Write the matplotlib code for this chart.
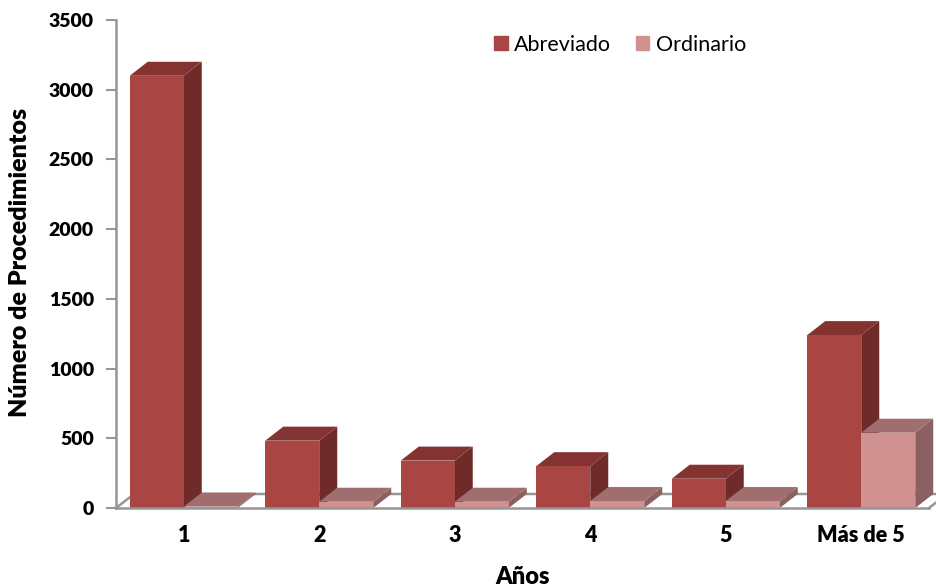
import matplotlib
matplotlib.use("Agg")
import matplotlib.pyplot as plt
from matplotlib.patches import Patch
import numpy as np

plt.rcParams['font.family'] = ['Lato', 'DejaVu Sans']

categories = ["1", "2", "3", "4", "5", "Más de 5"]
abreviado = [3100, 483, 340, 300, 210, 1240]
ordinario = [10, 45, 45, 50, 50, 540]
y_ticks = [0, 500, 1000, 1500, 2000, 2500, 3000, 3500]

W, H = 936, 588
left, right, bottom, top = 116, 929, 508, 20

# Colours: front, side, top of each box
ab_cols = ("#A94542", "#6E2B29", "#843331")
or_cols = ("#D09191", "#8A6060", "#A06E6E")
grey = "#969696"

fig = plt.figure(figsize=(W / 100, H / 100), dpi=100)
ax = fig.add_axes([left / W, 1 - bottom / H, (right - left) / W, (bottom - top) / H])
ax.set_xlim(0, 6)
ax.set_ylim(0, 3500)

# 3D depth of the boxes, pixels turned into data units
dx = 18 / ((right - left) / 6)
dy = 14 / ((bottom - top) / 3500)
bar_w = 54 / ((right - left) / 6)


def box(x0, value, cols, z):
    x1 = x0 + bar_w
    ax.bar(x0, value, width=bar_w, align='edge', color=cols[0], linewidth=0, zorder=z + 0.2)
    ax.fill([x1, x1 + dx, x1 + dx, x1], [0, dy, value + dy, value], color=cols[1],
            lw=0, clip_on=False, zorder=z + 0.1)
    ax.fill([x0, x0 + dx, x1 + dx, x1], [value, value + dy, value + dy, value], color=cols[2],
            lw=0, clip_on=False, zorder=z + 0.1)


for i in range(len(categories)):
    center = i + 0.5
    box(center - bar_w, abreviado[i], ab_cols, 3 + i * 2)
    box(center, ordinario[i], or_cols, 4 + i * 2)

# floor
ax.plot([0, dx, 6 + dx], [0, dy, dy], color=grey, lw=1.8, clip_on=False, zorder=1)
ax.plot([6, 6 + dx], [0, dy], color=grey, lw=1.8, clip_on=False, zorder=1)

for s in ["top", "right"]:
    ax.spines[s].set_visible(False)
for s in ["left", "bottom"]:
    ax.spines[s].set_color(grey)
    ax.spines[s].set_linewidth(1.8)
ax.spines["bottom"].set_zorder(30)

ax.set_xticks(np.arange(len(categories)) + 0.5)
ax.set_xticklabels(categories, fontweight='heavy', fontsize=15.5)
ax.tick_params(axis='x', length=0, pad=12)
ax.set_yticks(y_ticks)
ax.set_yticklabels([str(v) for v in y_ticks], fontweight='heavy', fontsize=14)
ax.tick_params(axis='y', length=7, width=1.5, color=grey, pad=9)

fig.text(523 / W, 1 - 577 / H, "Años", fontweight='heavy', fontsize=17, ha='center', va='center')
fig.text(20 / W, 1 - 262 / H, "Número de Procedimientos", fontweight='heavy', fontsize=18,
         rotation=90, ha='center', va='center')

handles = [Patch(color=ab_cols[0], label="Abreviado"), Patch(color=or_cols[0], label="Ordinario")]
ax.legend(handles=handles, loc='center left', bbox_to_anchor=(475 / W, 1 - 45 / H),
          bbox_transform=fig.transFigure, ncol=2, frameon=False, fontsize=15.5,
          handlelength=0.62, handleheight=0.62, handletextpad=0.3, columnspacing=1.15)

fig.savefig("out.png", dpi=100)
